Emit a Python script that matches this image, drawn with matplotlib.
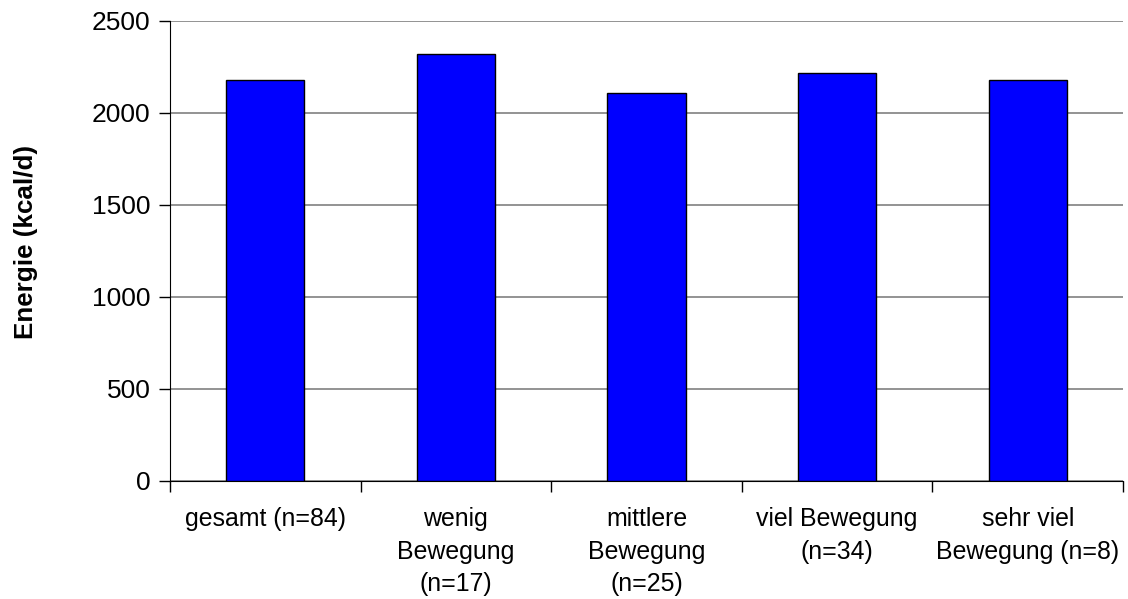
import numpy as np
import matplotlib
matplotlib.use("Agg")
import matplotlib.pyplot as plt

# Daten
kategorien = ["gesamt (n=84)", "wenig\nBewegung\n(n=17)", "mittlere\nBewegung\n(n=25)",
              "viel Bewegung\n(n=34)", "sehr viel\nBewegung (n=8)"]
energie = [2180, 2320, 2110, 2220, 2180]
y_ticks = [0, 500, 1000, 1500, 2000, 2500]

plt.rcParams["font.family"] = ["Liberation Sans", "DejaVu Sans"]

fig = plt.figure(figsize=(11.28, 5.99), dpi=100)
ax = fig.add_axes([170 / 1128, 1 - 481 / 599, 953 / 1128, 460 / 599])

x = np.arange(len(kategorien)) + 0.5
ax.bar(x, energie, width=0.41, color="#0000FF", edgecolor="black", linewidth=1, zorder=3)

ax.set_xlim(0, len(kategorien))
ax.set_ylim(0, 2500)
ax.set_yticks(y_ticks)
ax.yaxis.grid(True, color="#808080", linewidth=1.2, zorder=0)
ax.set_axisbelow(True)

# Beschriftungen in der Mitte, Striche an den Grenzen
ax.set_xticks(x)
ax.set_xticklabels(kategorien, fontsize=17.9, linespacing=1.43)
ax.tick_params(axis="x", which="major", length=0, pad=19)
ax.set_xticks(np.arange(len(kategorien) + 1), minor=True)
ax.tick_params(axis="x", which="minor", length=8, width=1)
ax.tick_params(axis="y", length=8, width=1, labelsize=19, pad=6)

for s in ["top", "right"]:
    ax.spines[s].set_visible(False)
ax.spines["left"].set_color("black")
ax.spines["bottom"].set_color("black")

fig.text(26 / 1128, 1 - 242 / 599, "Energie (kcal/d)", rotation=90, ha="center", va="center",
         fontsize=18.7, fontweight="bold")

fig.savefig("out.png", dpi=100)
